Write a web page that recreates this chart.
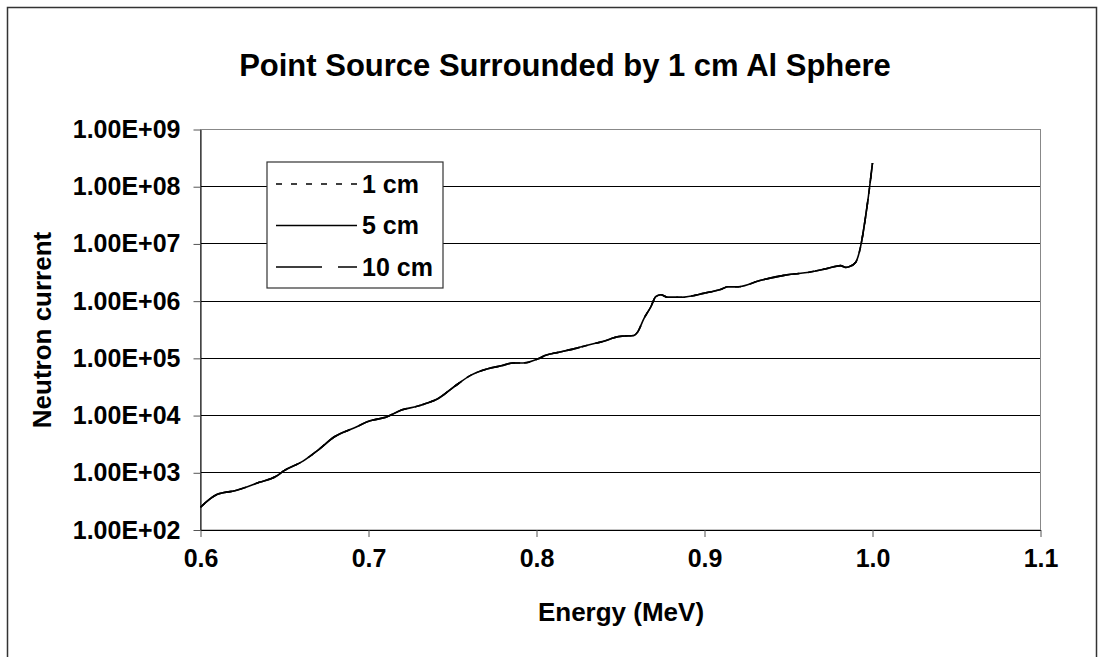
<!DOCTYPE html>
<html>
<head>
<meta charset="utf-8">
<script src="https://cdn.jsdelivr.net/npm/d3@7"></script>
<style>
  body { margin: 0; background: #fff; }
  text { font-family: "Liberation Sans", Arial, sans-serif; font-weight: bold; }
</style>
</head>
<body>
<div id="wrapper"></div>
<script>
// values
const energy = [
  0.600, 0.610, 0.621, 0.635, 0.645, 0.650, 0.661, 0.670, 0.680, 0.691,
  0.701, 0.710, 0.720, 0.729, 0.735, 0.741, 0.751, 0.761, 0.771, 0.779,
  0.786, 0.792, 0.801, 0.805, 0.814, 0.824, 0.832, 0.841, 0.846, 0.851,
  0.858, 0.860, 0.864, 0.868, 0.871, 0.874, 0.878, 0.886, 0.900, 0.910,
  0.914, 0.920, 0.933, 0.949, 0.961, 0.973, 0.981, 0.984, 0.986, 0.990,
  0.992, 0.997, 1.000,
]
const current = [
  2.5e2, 4.2e2, 4.9e2, 6.8e2, 8.7e2, 1.1e3, 1.6e3, 2.5e3, 4.3e3, 6.0e3,
  8.1e3, 9.3e3, 1.26e4, 1.45e4, 1.66e4, 1.95e4, 3.2e4, 5.1e4, 6.6e4, 7.4e4,
  8.3e4, 8.3e4, 9.8e4, 1.12e5, 1.29e5, 1.51e5, 1.74e5, 2.04e5, 2.29e5, 2.45e5,
  2.51e5, 2.82e5, 5.0e5, 7.9e5, 1.2e6, 1.29e6, 1.17e6, 1.17e6, 1.38e6, 1.62e6,
  1.78e6, 1.78e6, 2.29e6, 2.88e6, 3.16e6, 3.72e6, 4.17e6, 3.89e6, 3.98e6, 4.79e6,
  6.9e6, 5.1e7, 2.6e8,
]
// the three curves lie on top of each other in the picture
const seriesNames = ["1 cm", "5 cm", "10 cm"]
const seriesDash = ["6,9", null, "46,16"]
const xTicks = [0.6, 0.7, 0.8, 0.9, 1.0, 1.1]
const yTicks = [1e2, 1e3, 1e4, 1e5, 1e6, 1e7, 1e8, 1e9]

function drawChart() {
  const data = energy.map((e, i) => ({ energy: e, current: current[i] }))
  const xAccessor = (d) => d.energy
  const yAccessor = (d) => d.current

  const dimensions = {
    width: 1104,
    height: 657,
    margins: { top: 129.5, right: 63.5, bottom: 127, left: 200.5 },
  }
  dimensions.boundedWidth =
    dimensions.width - dimensions.margins.left - dimensions.margins.right
  dimensions.boundedHeight =
    dimensions.height - dimensions.margins.top - dimensions.margins.bottom

  const wrapper = d3
    .select("#wrapper")
    .append("svg")
    .attr("width", dimensions.width)
    .attr("height", dimensions.height)

  // chart border (bottom edge runs off the picture)
  wrapper
    .append("rect")
    .attr("x", 7.5)
    .attr("y", 7.5)
    .attr("width", 1089)
    .attr("height", 660)
    .attr("fill", "none")
    .attr("stroke", "#333")
    .attr("stroke-width", 1.5)

  wrapper
    .append("text")
    .text("Point Source Surrounded by 1 cm Al Sphere")
    .attr("x", 565)
    .attr("y", 76)
    .attr("text-anchor", "middle")
    .style("font-size", "31px")

  const bounds = wrapper
    .append("g")
    .attr("transform", `translate(${dimensions.margins.left},${dimensions.margins.top})`)

  const xScale = d3
    .scaleLinear()
    .domain([0.6, 1.1])
    .range([0, dimensions.boundedWidth])

  const yScale = d3
    .scaleLog()
    .domain([1e2, 1e9])
    .range([dimensions.boundedHeight, 0])

  // gridlines
  bounds
    .append("g")
    .selectAll("line")
    .data(yTicks.slice(1, -1))
    .join("line")
    .attr("x1", 0)
    .attr("x2", dimensions.boundedWidth)
    .attr("y1", (d) => Math.round(yScale(d)))
    .attr("y2", (d) => Math.round(yScale(d)))
    .attr("stroke", "#000")
    .attr("stroke-width", 1)

  // plot area border
  bounds
    .append("rect")
    .attr("width", dimensions.boundedWidth)
    .attr("height", dimensions.boundedHeight)
    .attr("fill", "none")
    .attr("stroke", "#888")

  // axes
  const xAxisGenerator = d3
    .axisBottom(xScale)
    .tickValues(xTicks)
    .tickFormat(d3.format(".1f"))
    .tickSizeInner(7)
    .tickSizeOuter(0)
    .tickPadding(12)

  const xAxis = bounds
    .append("g")
    .attr("transform", `translate(0,${dimensions.boundedHeight})`)
    .call(xAxisGenerator)
  xAxis.select(".domain").attr("stroke", "#000")
  xAxis.selectAll(".tick line").attr("stroke", "#555")
  xAxis
    .selectAll("text")
    .attr("fill", "#000")
    .style("font-size", "25px")
    .style("font-family", "'Liberation Sans', Arial, sans-serif")
    .style("font-weight", "bold")

  const yAxisGenerator = d3
    .axisLeft(yScale)
    .tickValues(yTicks)
    .tickFormat((d) => "1.00E+" + String(Math.round(Math.log10(d))).padStart(2, "0"))
    .tickSizeInner(7)
    .tickSizeOuter(0)
    .tickPadding(13)

  const yAxis = bounds.append("g").call(yAxisGenerator)
  yAxis.select(".domain").attr("stroke", "#000")
  yAxis.selectAll(".tick line").attr("stroke", "#555")
  yAxis
    .selectAll("text")
    .attr("fill", "#000")
    .style("font-size", "25px")
    .style("font-family", "'Liberation Sans', Arial, sans-serif")
    .style("font-weight", "bold")

  // axis titles
  wrapper
    .append("text")
    .text("Energy (MeV)")
    .attr("x", 621)
    .attr("y", 621)
    .attr("text-anchor", "middle")
    .style("font-size", "26px")

  wrapper
    .append("text")
    .text("Neutron current")
    .attr("transform", "translate(51,330) rotate(-90)")
    .attr("text-anchor", "middle")
    .style("font-size", "26px")

  // lines
  const lineGenerator = d3
    .line()
    .x((d) => xScale(xAccessor(d)))
    .y((d) => yScale(yAccessor(d)))
    .curve(d3.curveMonotoneX)

  bounds
    .append("g")
    .selectAll("path")
    .data(seriesNames)
    .join("path")
    .attr("d", lineGenerator(data))
    .attr("fill", "none")
    .attr("stroke", "#000")
    .attr("stroke-width", 1.6)
    .attr("stroke-dasharray", (d, i) => seriesDash[i])

  // legend
  const legend = wrapper.append("g").attr("transform", "translate(267,162)")
  legend
    .append("rect")
    .attr("width", 176)
    .attr("height", 126)
    .attr("fill", "#fff")
    .attr("stroke", "#333")
    .attr("stroke-width", 1.2)

  const legendItems = legend
    .selectAll("g")
    .data(seriesNames)
    .join("g")
    .attr("transform", (d, i) => `translate(0,${22 + i * 41.5})`)

  legendItems
    .append("line")
    .attr("x1", 9)
    .attr("x2", 90)
    .attr("stroke", "#000")
    .attr("stroke-width", 1.3)
    .attr("stroke-dasharray", (d, i) => seriesDash[i])

  legendItems
    .append("text")
    .text((d) => d)
    .attr("x", 95)
    .attr("dy", "0.35em")
    .style("font-size", "25px")
}

drawChart()
</script>
</body>
</html>
